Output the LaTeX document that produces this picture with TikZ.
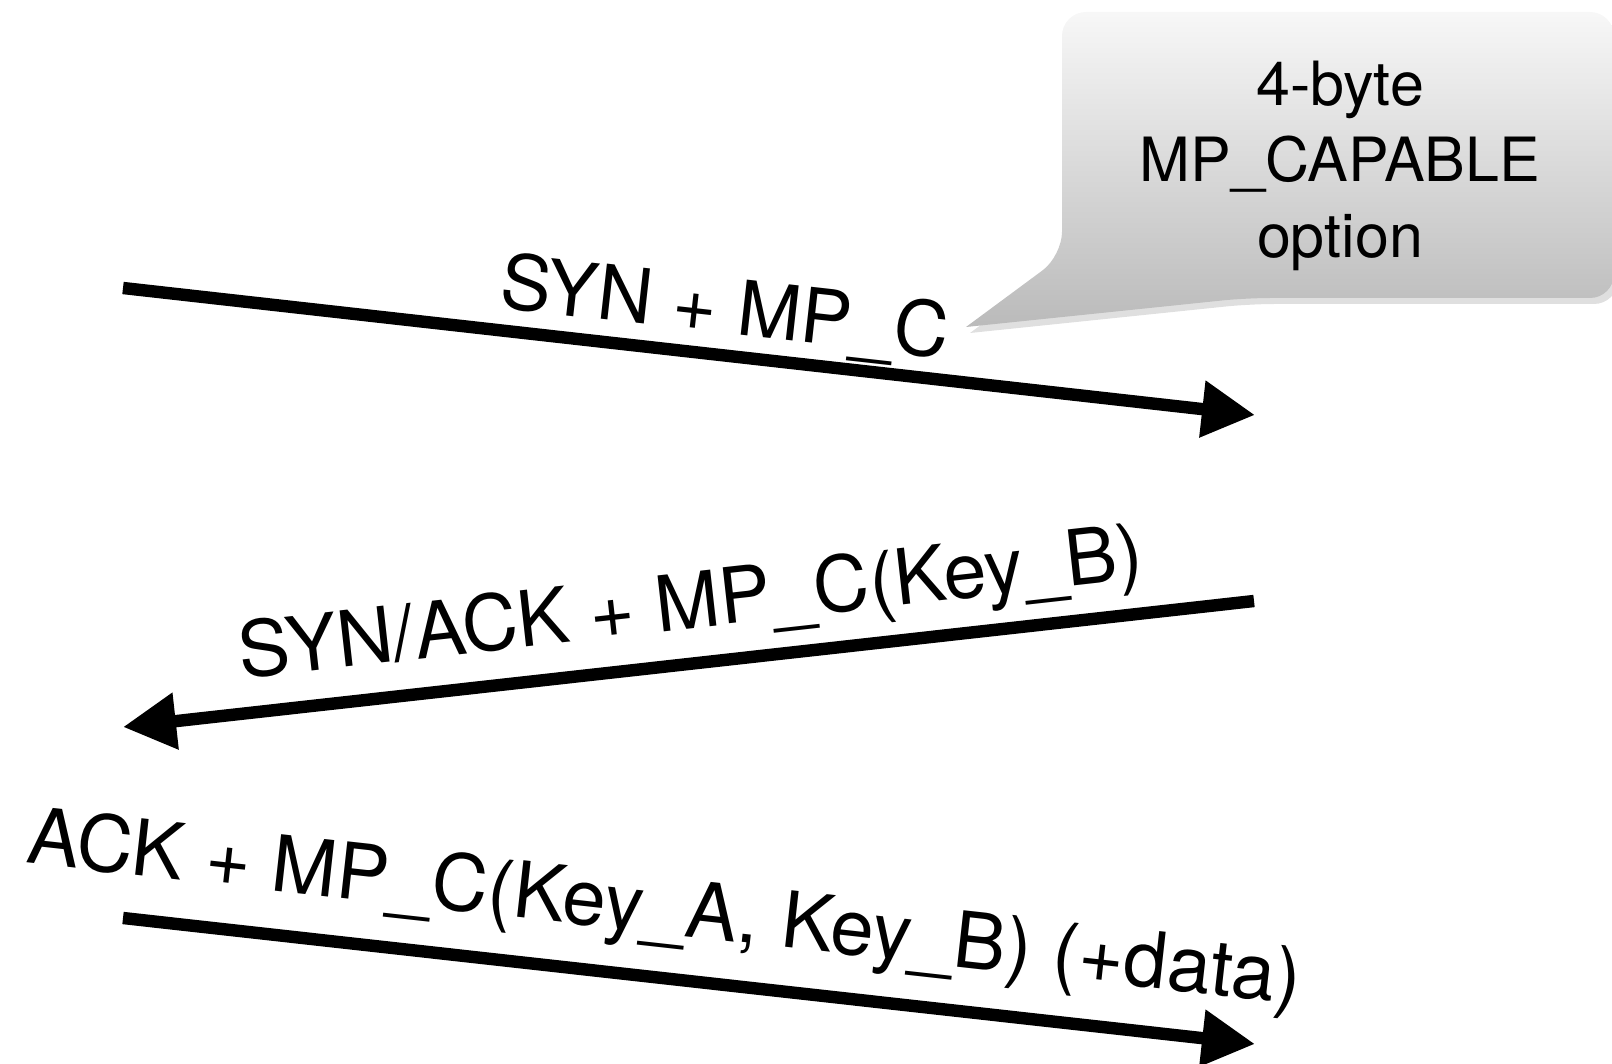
\documentclass[tikz,border=0pt]{standalone}
\usepackage{fontspec}
\setmainfont{TeX Gyre Heros}
\usetikzlibrary{arrows.meta,shadows}

\tikzset{
	msg/.style={line width=6.2pt, -{Triangle[length=26.5pt,width=27pt]}},
	msglabel/.style={sloped, anchor=base, inner sep=0pt, font=\fontsize{38}{46}\selectfont},
	bubble/.style={top color=black!3, bottom color=black!27,
		drop shadow={opacity=0.25, shadow xshift=2pt, shadow yshift=-3pt}},
	bubbletext/.style={align=center, inner sep=0pt, font=\fontsize{30.5}{38}\selectfont}
}

\begin{document}
\begin{tikzpicture}[x=0.5pt,y=-0.5pt]
	\useasboundingbox (0,0) rectangle (1612,1064);

	% ends
	\coordinate (a1) at (123,288);
	\coordinate (b1) at (1255,415);
	\coordinate (b2) at (1254,601);
	\coordinate (a2) at (123,727);
	\coordinate (a3) at (123,918);
	\coordinate (b3) at (1255,1044);

	% callout
	\path[bubble, rounded corners=12pt] (1062,100) -- (1062,256) [sharp corners] -- (966,327)
		[rounded corners=12pt] -- (1246,298) -- (1614,298) -- (1614,12) -- (1062,12) -- cycle;
	\node[bubbletext] (cap) at (1340,166) {4-byte\\MP\_CAPABLE\\option};

	% syn
	\draw[msg] (a1) -- node[msglabel, pos=0.527, yshift=11pt] (syn) {SYN + MP\_C} (b1);

	% syn/ack
	\draw[msg] (b2) -- node[msglabel, pos=0.492, yshift=17.5pt, font=\fontsize{38.6}{46}\selectfont] (synack) {SYN/ACK + MP\_C(Key\_B)} (a2);

	% ack
	\draw[msg] (a3) -- node[msglabel, pos=0.472, yshift=22pt, font=\fontsize{39}{46}\selectfont] (ack) {ACK + MP\_C(Key\_A, Key\_B) (+data)} (b3);

\end{tikzpicture}
\end{document}
